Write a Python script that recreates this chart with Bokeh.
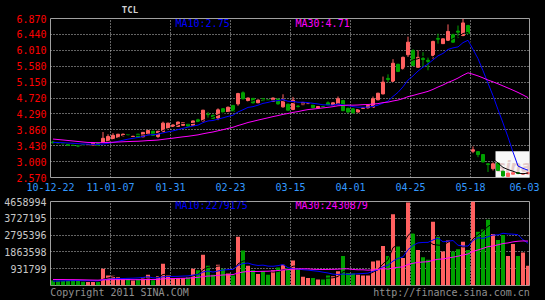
from bokeh.plotting import figure
from bokeh.layouts import column
from bokeh.models import (Range1d, FixedTicker, NumeralTickFormatter, Label,
                          BoxAnnotation, ColumnDataSource, LinearAxis)
from bokeh.embed import file_html
from bokeh.resources import INLINE

# ---------------- data ----------------
tick_labels = ["10-12-22", "11-01-07", "01-31", "02-23", "03-15",
               "04-01", "04-25", "05-18", "06-03"]
tick_pos = [-0.5, 11.5, 23.5, 35.5, 47.5, 59.5, 71.5, 83.5, 94.3]

opens = [3.53, 3.51, 3.49, 3.47, 3.45, 3.44, 3.46, 3.45, 3.44, 3.50,
         3.51, 3.55, 3.61, 3.65, 3.70, 3.73, 3.68, 3.74, 3.67, 3.73,
         3.82, 3.68, 3.81, 3.90, 3.95, 3.95, 3.98, 4.03, 3.98, 4.13,
         4.10, 4.28, 4.25, 4.18, 4.43, 4.34, 4.52, 4.56, 4.86, 4.65,
         4.71, 4.59, 4.70, 4.67, 4.63, 4.69, 4.48, 4.55, 4.41, 4.50,
         4.54, 4.55, 4.55, 4.45, 4.50, 4.59, 4.52, 4.56, 4.65, 4.44,
         4.43, 4.34, 4.44, 4.45, 4.47, 4.67, 4.83, 5.25, 5.17, 5.63,
         5.51, 5.89, 6.00, 5.55, 5.79, 5.74, 5.87, 6.33, 6.19, 6.28,
         6.43, 6.53, 6.41, 6.68, 3.28, 3.27, 3.19, 2.94, 2.81, 2.96,
         2.74, 2.60, 2.66, 2.70, 2.66, 2.67]
highs = [3.55, 3.52, 3.50, 3.48, 3.46, 3.45, 3.47, 3.47, 3.51, 3.51,
         3.80, 3.74, 3.77, 3.75, 3.76, 3.74, 3.70, 3.75, 3.80, 3.86,
         3.83, 3.83, 4.08, 4.05, 4.01, 4.08, 4.06, 4.04, 4.11, 4.16,
         4.40, 4.34, 4.27, 4.44, 4.45, 4.49, 4.53, 4.86, 4.90, 4.73,
         4.72, 4.68, 4.72, 4.68, 4.73, 4.71, 4.82, 4.57, 4.75, 4.53,
         4.61, 4.57, 4.57, 4.50, 4.51, 4.63, 4.60, 4.76, 4.67, 4.46,
         4.45, 4.42, 4.46, 4.53, 4.76, 4.86, 5.30, 5.36, 5.77, 5.65,
         5.84, 6.38, 6.04, 6.01, 5.96, 5.83, 6.27, 6.46, 6.33, 6.71,
         6.46, 6.68, 6.86, 6.70, 3.41, 3.28, 3.20, 2.96, 2.98, 2.97,
         2.75, 2.70, 2.72, 2.71, 2.69, 2.72]
lows = [3.49, 3.48, 3.47, 3.43, 3.43, 3.39, 3.44, 3.44, 3.43, 3.43,
        3.49, 3.53, 3.60, 3.64, 3.68, 3.70, 3.67, 3.65, 3.66, 3.72,
        3.70, 3.64, 3.80, 3.88, 3.94, 3.94, 3.97, 3.95, 3.97, 4.05,
        4.09, 4.19, 4.15, 4.12, 4.32, 4.32, 4.34, 4.51, 4.68, 4.61,
        4.57, 4.58, 4.64, 4.64, 4.62, 4.54, 4.46, 4.37, 4.39, 4.46,
        4.53, 4.54, 4.44, 4.44, 4.48, 4.51, 4.51, 4.54, 4.36, 4.32,
        4.30, 4.33, 4.43, 4.44, 4.46, 4.66, 4.82, 5.15, 5.15, 5.42,
        5.49, 5.83, 5.58, 5.54, 5.56, 5.47, 5.78, 6.19, 6.18, 6.26,
        6.21, 6.34, 6.39, 6.44, 3.23, 3.12, 2.98, 2.72, 2.76, 2.75,
        2.60, 2.59, 2.65, 2.66, 2.64, 2.66]
closes = [3.51, 3.50, 3.48, 3.44, 3.44, 3.42, 3.45, 3.46, 3.50, 3.44,
          3.63, 3.68, 3.71, 3.74, 3.74, 3.72, 3.69, 3.66, 3.79, 3.84,
          3.71, 3.82, 4.04, 4.04, 3.99, 4.07, 4.05, 3.96, 4.10, 4.08,
          4.39, 4.27, 4.17, 4.40, 4.34, 4.47, 4.36, 4.84, 4.70, 4.72,
          4.59, 4.67, 4.65, 4.66, 4.72, 4.56, 4.66, 4.39, 4.66, 4.49,
          4.60, 4.56, 4.46, 4.49, 4.49, 4.53, 4.59, 4.70, 4.38, 4.34,
          4.32, 4.41, 4.45, 4.52, 4.70, 4.85, 5.15, 5.22, 5.66, 5.44,
          5.82, 6.23, 5.60, 5.82, 5.76, 5.71, 6.25, 6.31, 6.32, 6.52,
          6.23, 6.50, 6.75, 6.46, 3.32, 3.19, 2.99, 2.92, 2.94, 2.76,
          2.61, 2.69, 2.70, 2.68, 2.68, 2.70]
volumes = [280000, 300000, 320000, 300000, 320000, 250000, 210000, 200000, 200000, 190000,
           930000, 550000, 540000, 460000, 330000, 370000, 280000, 360000, 460000, 600000,
           290000, 510000, 1200000, 550000, 420000, 420000, 420000, 470000, 930000, 840000,
           1700000, 1100000, 600000, 1150000, 930000, 660000, 550000, 2700000, 1940000, 1100000,
           840000, 640000, 790000, 600000, 850000, 1000000, 1150000, 970000, 1390000, 900000,
           480000, 420000, 420000, 330000, 330000, 550000, 510000, 790000, 1640000, 690000,
           660000, 600000, 550000, 550000, 1330000, 1390000, 2190000, 1640000, 3950000, 2160000,
           1520000, 4600000, 2890000, 1970000, 1570000, 1430000, 3530000, 2700000, 1880000, 2490000,
           1880000, 2010000, 2430000, 1970000, 4658994, 2980000, 3110000, 3650000, 2850000, 2520000,
           2800000, 1640000, 2300000, 1640000, 1830000, 1100000]

# trading days before the window (needed for the moving averages)
hist_close = [3.88, 3.86, 3.84, 3.85, 3.83, 3.86, 3.83,
              3.58, 3.56, 3.55, 3.57, 3.54, 3.56, 3.53, 3.55, 3.54, 3.56, 3.53, 3.55, 3.53,
              3.54, 3.52, 3.53, 3.51, 3.52, 3.53, 3.51, 3.52, 3.50]
hist_vol = [400000, 360000, 420000, 380000, 350000, 390000, 410000, 370000, 360000, 380000,
            400000, 370000, 350000, 390000, 380000, 360000, 400000, 370000, 380000, 360000,
            250000, 230000, 240000, 260000, 220000, 240000, 250000, 230000, 240000]

price_min, price_max, price_step = 2.57, 6.87, 0.43
vol_max = 4658994
ma_price_labels = ["MA10:2.75", "MA30:4.71"]
ma_vol_labels = ["MA10:2279175", "MA30:2430879"]
title_text = "TCL"
footer_left = "Copyright 2011 SINA.COM"
footer_right = "http://finance.sina.com.cn"


def sma(hist, vals, n):
    full = list(hist) + list(vals)
    off = len(hist)
    return [sum(full[off + i - n + 1: off + i + 1]) / n for i in range(len(vals))]


# ---------------- styling ----------------
RED = "#ff6060"
GREEN = "#00a000"
BLUE = "#0000ff"
MAGENTA = "#ff00ff"
GRID = "#c8c8c8"
FONT = "DejaVu Sans Mono"

n = len(closes)
xs = list(range(n))
colors = [RED if c >= o else GREEN for o, c in zip(opens, closes)]
src = ColumnDataSource(dict(
    x=xs, high=highs, low=lows,
    top=[max(o, c) for o, c in zip(opens, closes)],
    bottom=[min(o, c) for o, c in zip(opens, closes)],
    color=colors, vol=volumes,
    ma5=sma(hist_close, closes, 5), ma10=sma(hist_close, closes, 10),
    ma30=sma(hist_close, closes, 30),
    vma5=sma(hist_vol, volumes, 5), vma10=sma(hist_vol, volumes, 10),
    vma30=sma(hist_vol, volumes, 30),
))

xr = Range1d(-0.5, 95.3)


def style_axis(ax):
    ax.axis_line_color = None
    ax.major_tick_line_color = None
    ax.minor_tick_line_color = None
    ax.major_tick_out = 0
    ax.major_tick_in = 0
    ax.major_label_text_font = FONT
    ax.major_label_text_font_size = "10px"


def make_fig(height, yr, top, bottom, x_axis_location="below"):
    p = figure(width=545, height=height, x_range=xr, y_range=yr,
               output_backend="svg", toolbar_location=None, title=None,
               x_axis_location=x_axis_location,
               min_border_left=50, min_border_right=16,
               min_border_top=top, min_border_bottom=bottom,
               background_fill_color="black", border_fill_color="black",
               outline_line_color="#a0a0a0", outline_line_width=1)
    for ax in p.axis:
        style_axis(ax)
    for g in p.grid:
        g.grid_line_color = GRID
        g.grid_line_dash = "1 2"
        g.grid_line_width = 1
    p.xgrid.ticker = FixedTicker(ticks=tick_pos[1:8])
    return p


def lab(p, x, y, text, color, size="10px"):
    p.add_layout(Label(x=x, y=y, x_units="screen", y_units="screen", text=text,
                       text_color=color, text_font=FONT, text_font_size=size,
                       text_align="left", text_baseline="middle"))


# ---------------- price panel ----------------
p1 = make_fig(196, Range1d(price_min, price_max), 18, 19)
price_ticks = [price_min + price_step * k for k in range(11)]
p1.yaxis.ticker = FixedTicker(ticks=price_ticks)
p1.yaxis.formatter = NumeralTickFormatter(format="0.000")
p1.yaxis.major_label_text_color = "#ff0000"
p1.yaxis.major_label_standoff = 4
p1.ygrid.ticker = FixedTicker(ticks=price_ticks[1:10])
p1.xaxis.ticker = FixedTicker(ticks=tick_pos)
p1.xaxis.major_label_overrides = {pos: t for pos, t in zip(tick_pos, tick_labels)}
p1.xaxis.major_label_text_color = "#3399ff"
p1.xaxis.major_label_standoff = 5

# stock name shown above the chart (axis used as a text holder)
top_ax = LinearAxis(ticker=FixedTicker(ticks=[15.4]),
                    major_label_overrides={15.4: title_text})
style_axis(top_ax)
top_ax.major_label_text_font_size = "9px"
top_ax.major_label_text_font_style = "bold"
top_ax.major_label_text_color = "#d0d0d0"
top_ax.major_label_standoff = 4
p1.add_layout(top_ax, "above")

# sina logo box
p1.add_layout(BoxAnnotation(left=88.5, right=95.3, bottom=price_min, top=3.28,
                            fill_color="#f8f8f8", fill_alpha=1.0, line_alpha=0,
                            level="underlay"))
p1.add_layout(Label(x=88.7, y=2.62, text="sina", text_color="#e4caca",
                    text_font="DejaVu Sans", text_font_size="15px",
                    text_font_style="bold italic", level="underlay"))

p1.segment(x0="x", y0="low", x1="x", y1="high", color="color", line_width=1, source=src)
p1.vbar(x="x", top="top", bottom="bottom", width=0.6, fill_color="color",
        line_color="color", line_width=1, source=src)
p1.line("x", "ma5", color="black", line_width=1, source=src)
p1.line("x", "ma10", color=BLUE, line_width=1, source=src)
p1.line("x", "ma30", color=MAGENTA, line_width=1, source=src)

lab(p1, 125, 154, ma_price_labels[0], BLUE)
lab(p1, 245, 154, ma_price_labels[1], MAGENTA)

# ---------------- volume panel ----------------
p2 = make_fig(104, Range1d(0, vol_max), 5, 14)
vol_ticks = [vol_max * k / 5 for k in range(1, 6)]
p2.yaxis.ticker = FixedTicker(ticks=vol_ticks)
p2.yaxis.formatter = NumeralTickFormatter(format="0")
p2.yaxis.major_label_text_color = "#c8c8c8"
p2.yaxis.major_label_standoff = 4
p2.ygrid.ticker = FixedTicker(ticks=vol_ticks[:4])
# footer texts held by the bottom axis
foot_pos = [13.3, 79.7]
p2.xaxis.ticker = FixedTicker(ticks=foot_pos)
p2.xaxis.major_label_overrides = {foot_pos[0]: footer_left, foot_pos[1]: footer_right}
p2.xaxis.major_label_text_color = "#909090"
p2.xaxis.major_label_standoff = 1

p2.vbar(x="x", top="vol", bottom=0, width=0.8, fill_color="color",
        line_color=None, source=src)
p2.line("x", "vma5", color="black", line_width=1, source=src)
p2.line("x", "vma10", color=BLUE, line_width=1, source=src)
p2.line("x", "vma30", color=MAGENTA, line_width=1, source=src)

lab(p2, 125, 80, ma_vol_labels[0], BLUE)
lab(p2, 245, 80, ma_vol_labels[1], MAGENTA)

layout = column(p1, p2, spacing=0, styles={"background-color": "black"})
open("out.html", "w").write(file_html(layout, INLINE))
